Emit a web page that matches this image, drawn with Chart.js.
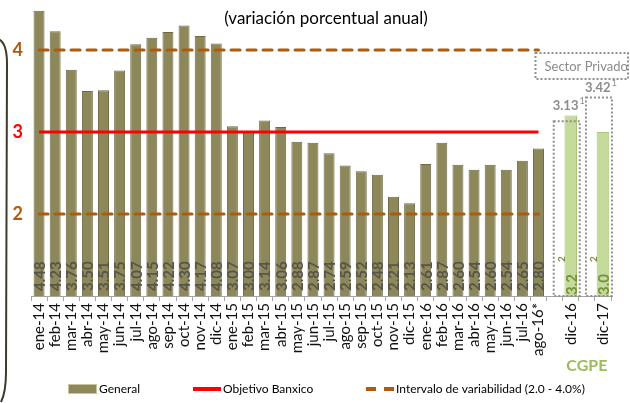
<!DOCTYPE html>
<html>
<head>
<meta charset="utf-8">
<script src="https://cdn.jsdelivr.net/npm/chart.js@4.4.0/dist/chart.umd.min.js"></script>
<style>
  html, body { margin: 0; padding: 0; background: #fff; }
  #wrap { width: 630px; height: 403px; }
</style>
</head>
<body>
<div id="wrap"><canvas id="inflChart" width="630" height="403"></canvas></div>
<script>
// datos
const months = ['ene-14','feb-14','mar-14','abr-14','may-14','jun-14','jul-14','ago-14','sep-14','oct-14','nov-14','dic-14',
  'ene-15','feb-15','mar-15','abr-15','may-15','jun-15','jul-15','ago-15','sep-15','oct-15','nov-15','dic-15',
  'ene-16','feb-16','mar-16','abr-16','may-16','jun-16','jul-16','ago-16*'];
const general = [4.48,4.23,3.76,3.50,3.51,3.75,4.07,4.15,4.22,4.30,4.17,4.08,
  3.07,3.00,3.14,3.06,2.88,2.87,2.74,2.59,2.52,2.48,2.21,2.13,
  2.61,2.87,2.60,2.54,2.60,2.54,2.65,2.80];
const cgpeLabels = ['dic-16','dic-17'];
const cgpe = [3.2, 3.0];
const privado = [3.13, 3.42];
const objetivo = 3.0;
const intervalo = [2.0, 4.0];
const yTicks = [2, 3, 4];
const legendNames = ['General', 'Objetivo Banxico', 'Intervalo de variabilidad (2.0 - 4.0%)'];

const categories = [...months, '', cgpeLabels[0], '', cgpeLabels[1]];
const inMonths = (i) => i < months.length;
const generalData = categories.map((c, i) => inMonths(i) ? general[i] : null);
const cgpeData = categories.map(c => { const k = cgpeLabels.indexOf(c); return k >= 0 ? cgpe[k] : null; });
const objData = categories.map((c, i) => inMonths(i) ? objetivo : null);
const lowData = categories.map((c, i) => inMonths(i) ? intervalo[0] : null);
const highData = categories.map((c, i) => inMonths(i) ? intervalo[1] : null);

const FONT = 'Lato';
const OLIVE = '#8d8859';
const GREEN = '#c6da9c';
const BROWN = '#b05a0c';
const RED = '#ff0000';

const extras = {
  id: 'extras',
  afterDatasetsDraw(chart) {
    const ctx = chart.ctx;
    const x = chart.scales.x, y = chart.scales.y;
    const bottom = chart.chartArea.bottom;

    // etiquetas dentro de las barras
    const drawUp = (txt, px, py, font, color) => {
      ctx.save();
      ctx.translate(px, py);
      ctx.rotate(-Math.PI / 2);
      ctx.font = font;
      ctx.fillStyle = color;
      ctx.textAlign = 'left';
      ctx.textBaseline = 'middle';
      ctx.fillText(txt, 0, 0);
      ctx.restore();
    };
    chart.getDatasetMeta(0).data.forEach((bar, i) => {
      if (generalData[i] == null) return;
      drawUp(generalData[i].toFixed(2), bar.x + 1, bottom - 5, 'bold 15px ' + FONT, '#56554a');
    });
    chart.getDatasetMeta(1).data.forEach((bar, i) => {
      if (cgpeData[i] == null) return;
      drawUp(cgpeData[i].toFixed(1), bar.x + 1, bottom - 1, 'bold 15px ' + FONT, '#76923c');
      drawUp('2', bar.x - 9, bottom - 34, 'bold 10px ' + FONT, '#76923c');
    });

    // sector privado: cajas punteadas
    ctx.save();
    ctx.strokeStyle = '#8f8f8f';
    ctx.lineWidth = 2;
    ctx.setLineDash([2, 2]);
    cgpeLabels.forEach((lab, k) => {
      const cx = x.getPixelForValue(categories.indexOf(lab));
      const top = y.getPixelForValue(privado[k]);
      ctx.strokeRect(cx - 17, top, 26, bottom - top);
    });
    cgpeLabels.forEach((lab, k) => {
      const cx = x.getPixelForValue(categories.indexOf(lab));
      const top = y.getPixelForValue(privado[k]);
      const barTop = y.getPixelForValue(cgpe[k]);
      const base = Math.min(top, barTop) - 6;
      ctx.font = 'bold 13px ' + FONT;
      ctx.fillStyle = '#8c8c8c';
      ctx.textAlign = 'left';
      ctx.textBaseline = 'alphabetic';
      const t = privado[k].toFixed(2);
      const w = ctx.measureText(t).width;
      const sx = cx - 18;
      ctx.fillText(t, sx, base);
      ctx.font = '9px ' + FONT;
      ctx.fillText('1', sx + w + 1, base - 6);
    });
    // recuadro "Sector Privado"
    const px0 = x.getPixelForValue(months.length - 1) - 3;
    ctx.strokeRect(px0, 53, 628 - px0, 26);
    ctx.font = '13px ' + FONT;
    ctx.fillStyle = '#8c8c8c';
    ctx.fillText('Sector Privado', px0 + 9, 71);
    const sw = ctx.measureText('Sector Privado').width;
    ctx.font = '9px ' + FONT;
    ctx.fillText('1', px0 + 10 + sw, 65);
    ctx.restore();

    // CGPE
    const c1 = x.getPixelForValue(categories.indexOf(cgpeLabels[0]));
    const c2 = x.getPixelForValue(categories.indexOf(cgpeLabels[1]));
    ctx.save();
    ctx.font = 'bold 16px ' + FONT;
    ctx.fillStyle = '#9bbb59';
    ctx.textAlign = 'center';
    ctx.fillText('CGPE', (c1 + c2) / 2, 371);

    // titulo
    ctx.font = '17px ' + FONT;
    ctx.fillStyle = '#000';
    ctx.fillText('(variación porcentual anual)', 326, 24);

    // leyenda
    ctx.font = '12px ' + FONT;
    ctx.textAlign = 'left';
    ctx.textBaseline = 'middle';
    const ly = 389;
    let lx = 68;
    ctx.fillStyle = OLIVE;
    ctx.fillRect(lx, ly - 5, 29, 10);
    ctx.strokeStyle = '#c9c49a';
    ctx.lineWidth = 1;
    ctx.strokeRect(lx + 0.5, ly - 4.5, 28, 9);
    ctx.fillStyle = '#000';
    ctx.fillText(legendNames[0], lx + 31, ly);
    lx = 193;
    ctx.strokeStyle = RED;
    ctx.lineWidth = 4;
    ctx.beginPath(); ctx.moveTo(lx, ly); ctx.lineTo(lx + 28, ly); ctx.stroke();
    ctx.fillText(legendNames[1], lx + 30, ly);
    lx = 366;
    ctx.strokeStyle = BROWN;
    ctx.setLineDash([10, 8]);
    ctx.beginPath(); ctx.moveTo(lx, ly); ctx.lineTo(lx + 28, ly); ctx.stroke();
    ctx.setLineDash([]);
    ctx.fillText(legendNames[2], lx + 30, ly);

    // llave izquierda
    ctx.strokeStyle = '#3d3a28';
    ctx.lineWidth = 2;
    ctx.beginPath();
    ctx.moveTo(-2, 39);
    ctx.quadraticCurveTo(7, 42, 7, 64);
    ctx.lineTo(6, 372);
    ctx.quadraticCurveTo(6, 392, 1, 402);
    ctx.stroke();
    ctx.restore();
  }
};

new Chart(document.getElementById('inflChart'), {
  type: 'bar',
  data: {
    labels: categories,
    datasets: [
      { label: legendNames[0], data: generalData, backgroundColor: OLIVE, borderColor: '#6f6a44', borderWidth: 1,
        barPercentage: 0.68, categoryPercentage: 1, grouped: false, order: 2 },
      { label: 'CGPE', data: cgpeData, backgroundColor: GREEN, borderColor: '#a9c47a', borderWidth: 1,
        barPercentage: 0.78, categoryPercentage: 1, grouped: false, order: 2 },
      { type: 'line', label: legendNames[1], data: objData, borderColor: RED, borderWidth: 3,
        pointRadius: 0, fill: false, order: 1 },
      { type: 'line', label: legendNames[2], data: highData, borderColor: BROWN,
        borderWidth: 3, borderDash: [9, 7], borderCapStyle: 'round', pointRadius: 0, fill: false, order: 1 },
      { type: 'line', label: 'low', data: lowData, borderColor: BROWN,
        borderWidth: 3, borderDash: [9, 7], borderCapStyle: 'round', pointRadius: 0, fill: false, order: 1 }
    ]
  },
  options: {
    responsive: false,
    animation: false,
    layout: { padding: { top: 9, right: 19, left: 0, bottom: 0 } },
    plugins: {
      tooltip: { enabled: false },
      title: { display: false },
      legend: { display: false }
    },
    scales: {
      x: {
        grid: { display: true, drawOnChartArea: false, drawTicks: true, tickLength: 5, color: '#a6a6a6', offset: true },
        border: { display: true, color: '#a6a6a6' },
        ticks: { autoSkip: false, minRotation: 90, maxRotation: 90, padding: 2, color: '#111',
          font: { family: FONT, size: 15 } },
        afterFit: (s) => { s.height = 107; s.paddingLeft = 0; s.paddingRight = 0; }
      },
      y: {
        min: 1,
        max: 4.5,
        grid: { display: false, drawTicks: false },
        border: { display: false },
        afterBuildTicks: (s) => { s.ticks = yTicks.map(v => ({ value: v })); },
        ticks: {
          padding: 8,
          color: (c) => c.tick && c.tick.value === objetivo ? RED : BROWN,
          font: { family: FONT, size: 18, weight: 'bold' }
        },
        afterFit: (s) => { s.width = 31; s.paddingTop = 0; s.paddingBottom = 0; }
      }
    }
  },
  plugins: [extras]
});
</script>
</body>
</html>
